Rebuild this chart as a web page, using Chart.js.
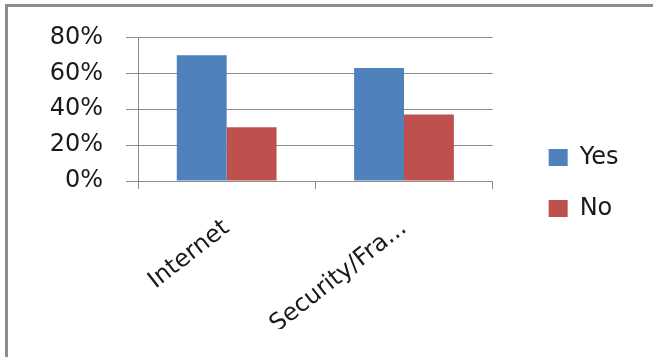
<!DOCTYPE html>
<html>
<head>
<meta charset="utf-8">
<script src="https://cdn.jsdelivr.net/npm/chart.js@4.4.1/dist/chart.umd.min.js"></script>
<style>
html, body { margin: 0; padding: 0; background: #fff; }
#wrap { position: relative; width: 653px; height: 357px; overflow: hidden; }
#frame { position: absolute; left: 5px; top: 4px; right: -10px; bottom: -10px;
  border-top: 3px solid #8c8c8c; border-left: 3px solid #8c8c8c; pointer-events: none; }
canvas { position: absolute; left: 0; top: 0; }
</style>
</head>
<body>
<div id="wrap">
  <canvas id="chart" width="653" height="357"></canvas>
  <div id="frame"></div>
</div>
<script>
const categories = ['Internet', 'Security/Fra...'];
const yesValues = [70, 63];
const noValues = [30, 37];
const yMax = 80;
const yStep = 20;

const font = { family: 'DejaVu Sans', size: 24 };
const textColor = '#1a1a1a';
const lineColor = '#8c8c8c';

const ctx = document.getElementById('chart').getContext('2d');

const chart = new Chart(ctx, {
    type: 'bar',
    data: {
        labels: categories,
        datasets: [{
            label: 'Yes',
            data: yesValues,
            backgroundColor: '#4f81bd',
            borderWidth: 0
        }, {
            label: 'No',
            data: noValues,
            backgroundColor: '#c0504d',
            borderWidth: 0
        }]
    },
    options: {
        responsive: false,
        animation: false,
        barPercentage: 1,
        categoryPercentage: 0.5625,
        layout: { padding: { top: 37, right: 27, bottom: 28, left: 0 } },
        scales: {
            x: {
                offset: true,
                grid: { offset: true, drawOnChartArea: false, tickLength: 8, color: lineColor },
                border: { color: lineColor },
                ticks: {
                    autoSkip: false,
                    minRotation: 38,
                    maxRotation: 38,
                    padding: 25,
                    font: font,
                    color: textColor
                },
                afterFit: function(scale) { scale.height = 148; }
            },
            y: {
                min: 0,
                max: yMax,
                grid: { color: lineColor, tickLength: 12 },
                border: { color: lineColor },
                ticks: {
                    stepSize: yStep,
                    padding: 23,
                    font: font,
                    color: textColor,
                    callback: function(value) { return value + '%'; }
                },
                afterFit: function(scale) { scale.width = 138; }
            },
            // empty axis, only keeps a gap between plot and legend
            gap: {
                type: 'linear',
                position: 'right',
                grid: { display: false },
                border: { display: false },
                ticks: { display: false },
                afterFit: function(scale) { scale.width = 29; }
            }
        },
        plugins: {
            legend: {
                position: 'right',
                labels: {
                    boxWidth: 19,
                    boxHeight: 17,
                    padding: 27,
                    font: font,
                    color: textColor
                }
            },
            tooltip: { enabled: false }
        }
    }
});
</script>
</body>
</html>
